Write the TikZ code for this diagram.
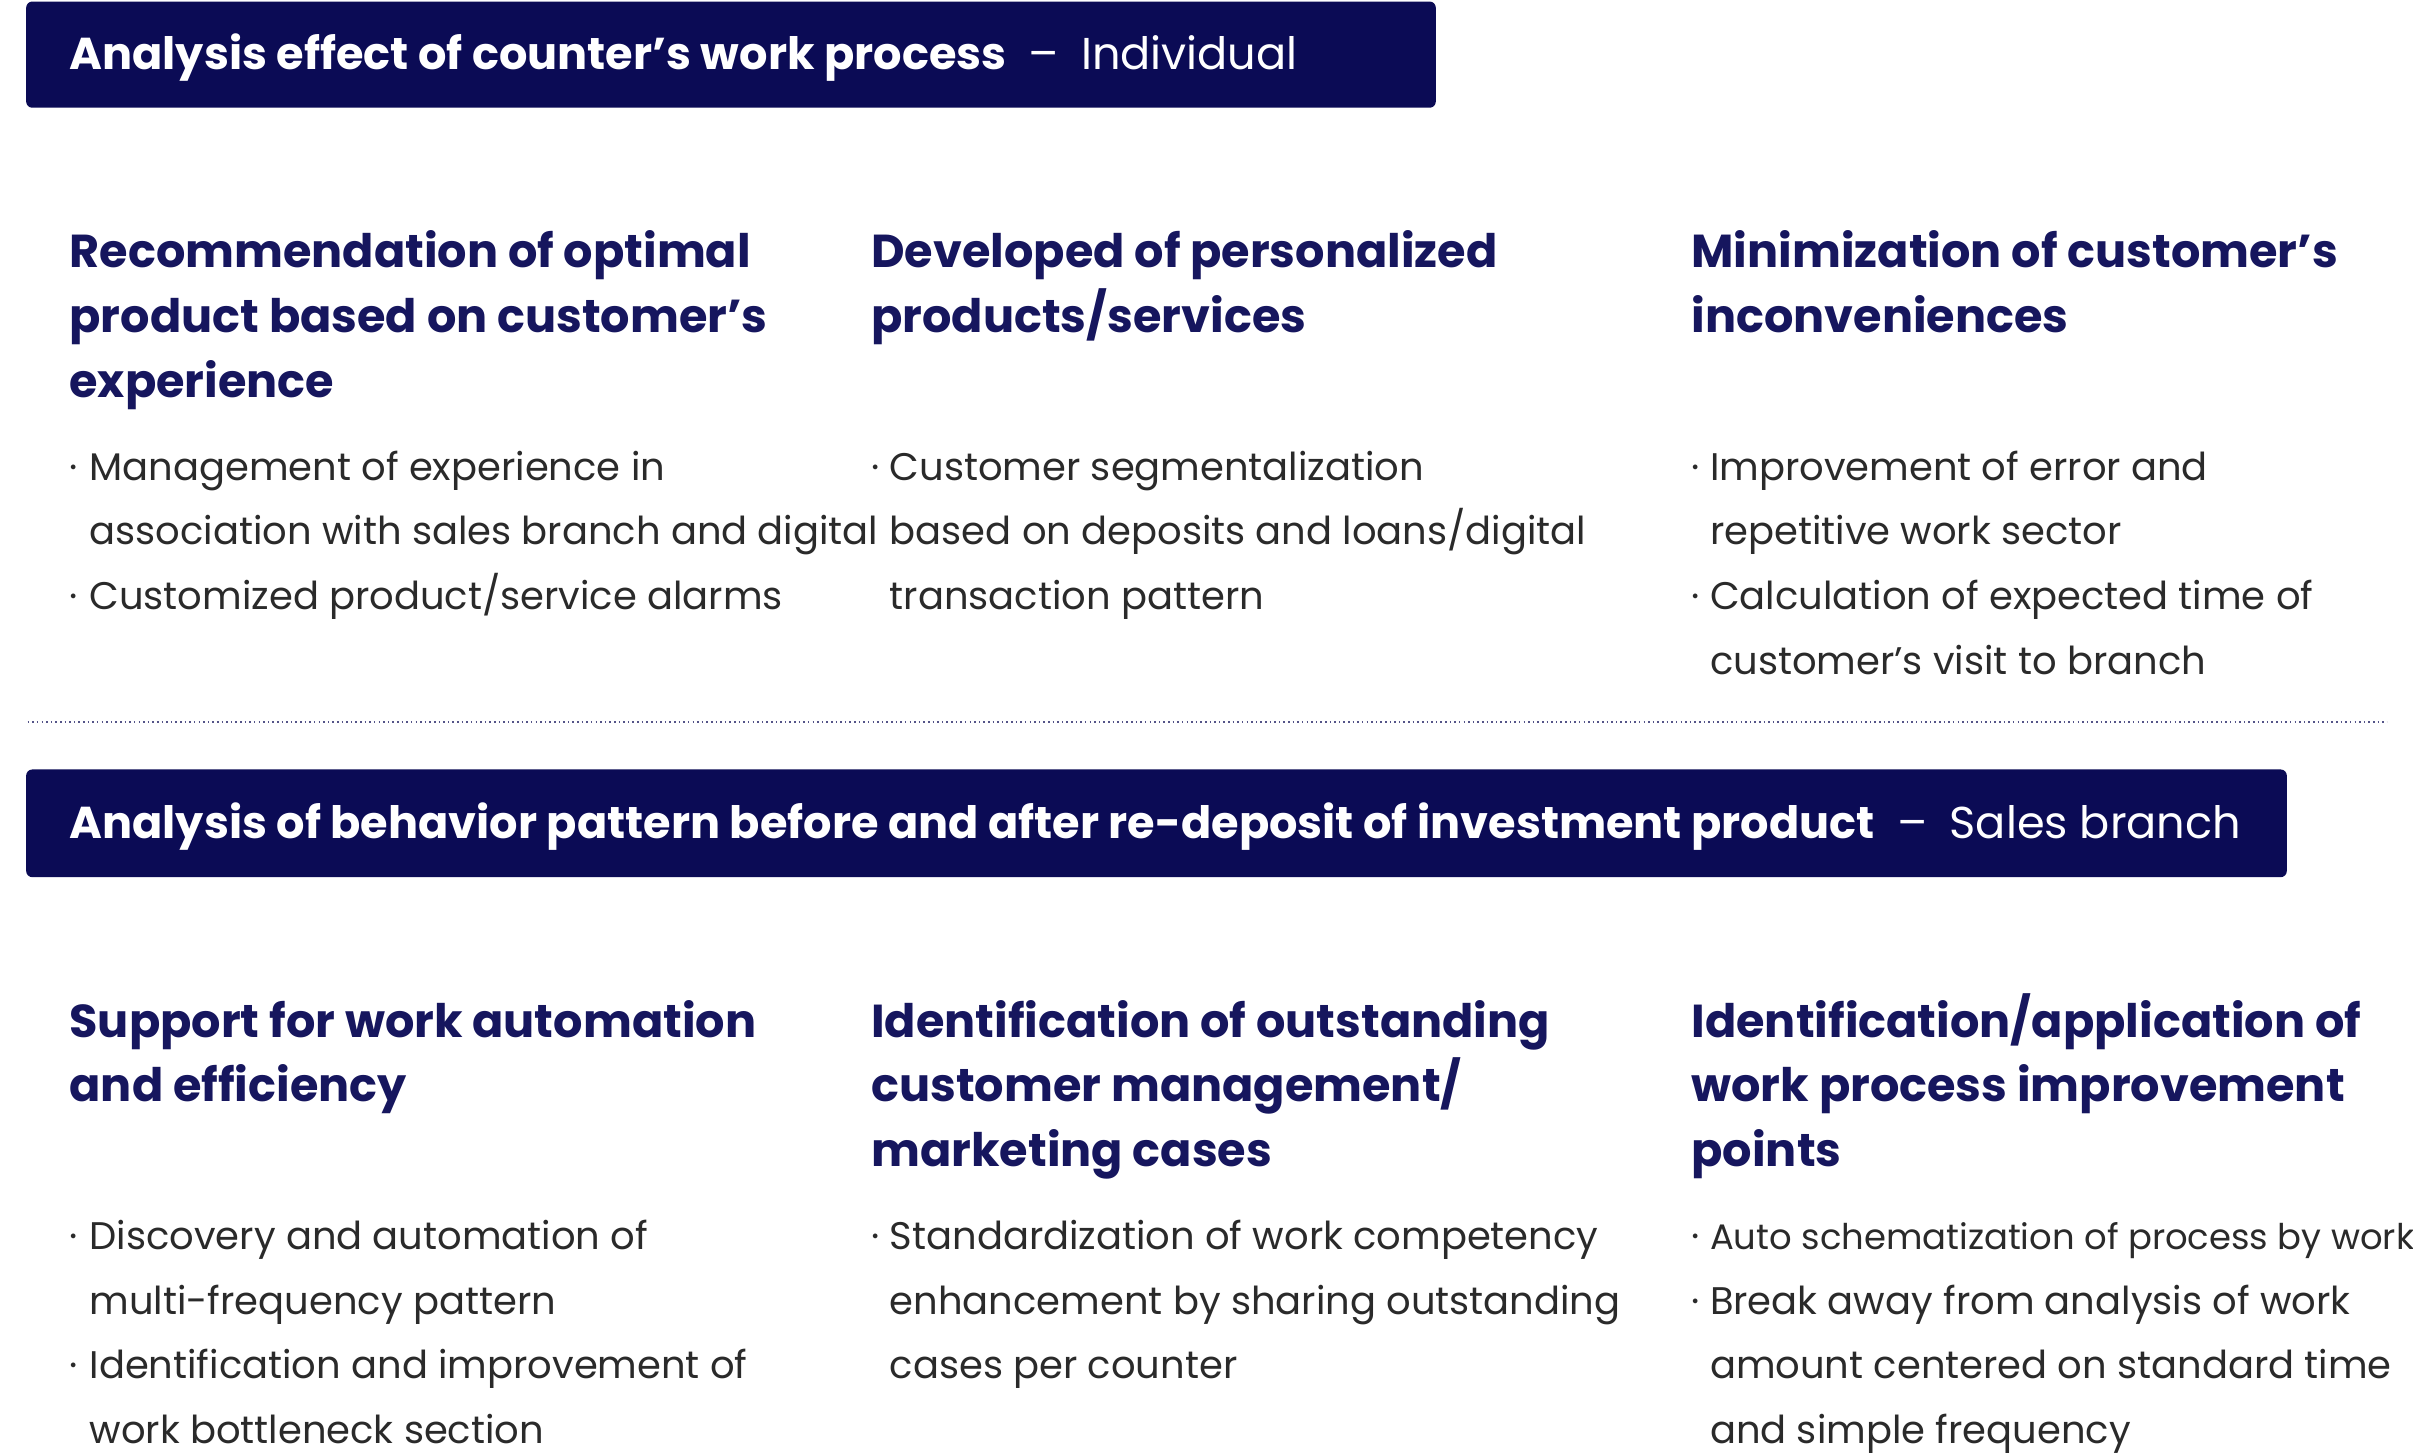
\documentclass[tikz,border=0pt]{standalone}
\usepackage{fontspec}
\setmainfont{Poppins}
\definecolor{navy}{HTML}{0B0B55}
\definecolor{head}{HTML}{16165E}
\definecolor{body}{HTML}{2A2A2A}
\tikzset{
 bar/.style={fill=navy,rounded corners=4pt,draw=none},
 bartxt/.style={anchor=base west,text=white,inner sep=0,font=\fontsize{29}{34}\selectfont},
 hd/.style={anchor=base west,text=head,inner sep=0,font=\fontsize{30}{36}\selectfont\bfseries},
 bt/.style={anchor=base west,text=body,inner sep=0,font=\fontsize{25}{30}\selectfont},
 sbt/.style={anchor=base west,text=body,inner sep=0,font=\fontsize{23}{28}\selectfont},
}
\begin{document}
\begin{tikzpicture}[x=1pt,y=-1pt]
\useasboundingbox (0,0) rectangle (1568,944);
\fill[bar] (17,1) rectangle (933,70);
\node[bartxt] (t1) at (45,45) {\textbf{Analysis effect of counter’s work process}\enspace–\enspace Individual};
\draw[navy!70,dotted,line width=1pt] (18,469) -- (1551,469);
\fill[bar] (17,500) rectangle (1486,570);
\node[bartxt] (t2) at (45,545) {\textbf{Analysis of behavior pattern before and after re-deposit of investment product}\enspace–\enspace Sales branch};
% headings
\node[hd] (h1) at (45,174) {Recommendation of optimal};
\node[hd] (h2) at (45,216) {product based on customer’s};
\node[hd] (h3) at (45,258) {experience};
\node[hd] (h4) at (566,174) {Developed of personalized};
\node[hd] (h5) at (566,216) {products/services};
\node[hd] (h6) at (1099,174) {Minimization of customer’s};
\node[hd] (h7) at (1099,216) {inconveniences};
\node[hd] (h8) at (45,674) {Support for work automation};
\node[hd] (h9) at (45,716) {and efficiency};
\node[hd] (h10) at (566,674) {Identification of outstanding};
\node[hd] (h11) at (566,716) {customer management/};
\node[hd] (h12) at (566,758) {marketing cases};
\node[hd] (h13) at (1099,674) {Identification/application of};
\node[hd] (h14) at (1099,716) {work process improvement};
\node[hd] (h15) at (1099,758) {points};
% bullets
\foreach \x/\y [count=\i] in {45/312,45/396,566/312,1099/312,1099/396,45/812,45/896,566/812,1099/812,1099/854}
 \node[bt] (d\i) at (\x,\y) {·};
\node[bt] (b1) at (58,312) {Management of experience in};
\node[bt] (b2) at (58,354) {association with sales branch and digital};
\node[bt] (b3) at (58,396) {Customized product/service alarms};
\node[bt] (b4) at (578,312) {Customer segmentalization};
\node[bt] (b5) at (578,354) {based on deposits and loans/digital};
\node[bt] (b6) at (578,396) {transaction pattern};
\node[bt] (b7) at (1111,312) {Improvement of error and};
\node[bt] (b8) at (1111,354) {repetitive work sector};
\node[bt] (b9) at (1111,396) {Calculation of expected time of};
\node[bt] (b10) at (1111,438) {customer’s visit to branch};
\node[bt] (b11) at (58,812) {Discovery and automation of};
\node[bt] (b12) at (58,854) {multi-frequency pattern};
\node[bt] (b13) at (58,896) {Identification and improvement of};
\node[bt] (b14) at (58,938) {work bottleneck section};
\node[bt] (b15) at (578,812) {Standardization of work competency};
\node[bt] (b16) at (578,854) {enhancement by sharing outstanding};
\node[bt] (b17) at (578,896) {cases per counter};
\node[sbt] (b18) at (1111,812) {Auto schematization of process by work};
\node[bt] (b19) at (1111,854) {Break away from analysis of work};
\node[bt] (b20) at (1111,896) {amount centered on standard time};
\node[bt] (b21) at (1111,938) {and simple frequency};
\end{tikzpicture}
\end{document}
